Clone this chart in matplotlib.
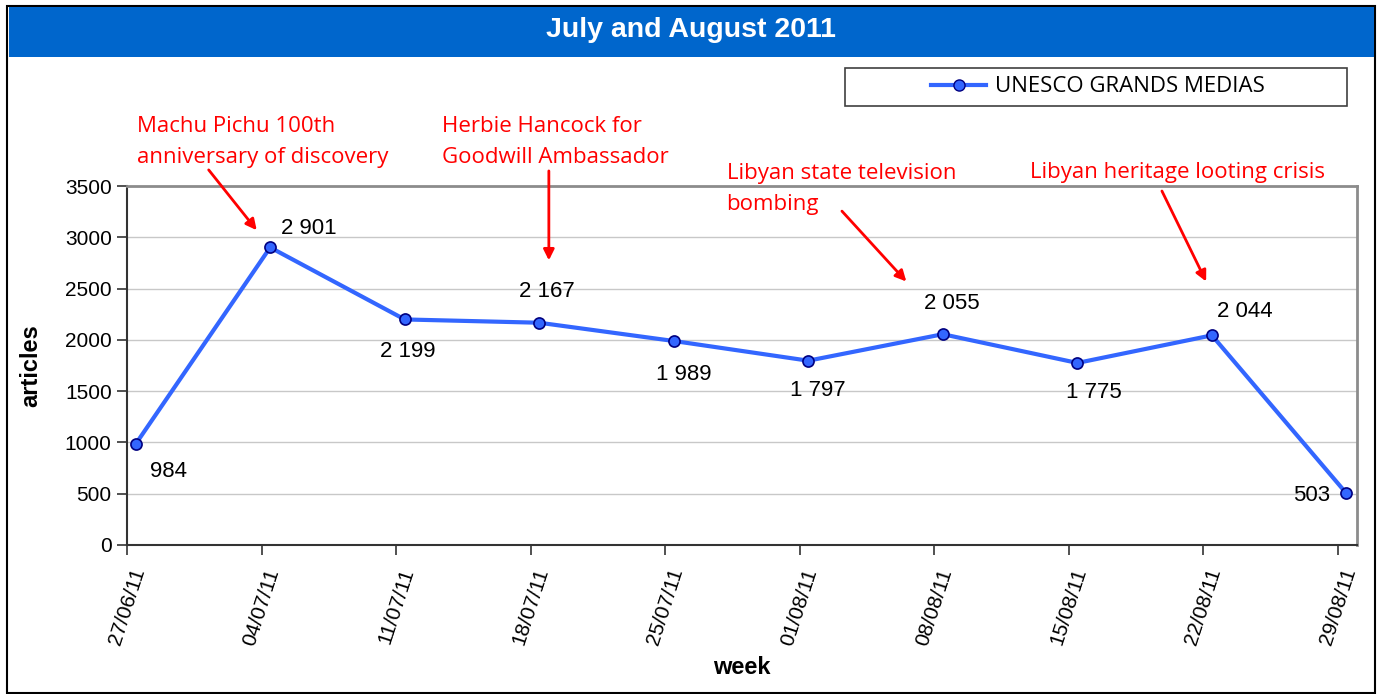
import pandas as pd
import matplotlib
matplotlib.use("Agg")
import matplotlib.pyplot as plt
from matplotlib.patches import Rectangle
from matplotlib.lines import Line2D

# data
weeks = ["27/06/11", "04/07/11", "11/07/11", "18/07/11", "25/07/11",
         "01/08/11", "08/08/11", "15/08/11", "22/08/11", "29/08/11"]
articles = [984, 2901, 2199, 2167, 1989, 1797, 2055, 1775, 2044, 503]
series_name = "UNESCO GRANDS MEDIAS"
title = "July and August 2011"

events = ["Machu Pichu 100th\nanniversary of discovery",
          "Herbie Hancock for\nGoodwill Ambassador",
          "Libyan state television\nbombing",
          "Libyan heritage looting crisis"]
event_week = [1, 3, 6, 8]

plt.rcParams['font.family'] = ['Liberation Sans', 'DejaVu Sans']

dates = pd.to_datetime(weeks, format="%d/%m/%y")
days = [(d - dates[0]).days for d in dates]
xs = [d + 0.45 for d in days]

W, H = 1380, 694
fig = plt.figure(figsize=(W / 100, H / 100), dpi=100)

def fx(px):
    return px / W

def fy(py):
    return 1 - py / H

# outer frame and title bar
fig.patches.append(Rectangle((fx(7), fy(693)), fx(1375) - fx(7), fy(6) - fy(693),
                             transform=fig.transFigure, fill=False,
                             edgecolor='black', lw=1.5))
fig.patches.append(Rectangle((fx(9), fy(57)), fx(1374) - fx(9), fy(7) - fy(57),
                             transform=fig.transFigure, color='#0066CC', lw=0))
fig.text(fx(691), fy(30), title, color='white', fontsize=20.5,
         fontweight='bold', ha='center', va='center')

ax = fig.add_axes([fx(127), fy(545), fx(1357) - fx(127), fy(186) - fy(545)])
ax.plot(xs, articles, color='#3366FF', lw=3, marker='o', markersize=8,
        markerfacecolor='#3366FF', markeredgecolor='#000080', markeredgewidth=1.2,
        zorder=3)

ax.set_xlim(0, 64)
ax.set_ylim(0, 3500)
ax.set_yticks(range(0, 3501, 500))
ax.set_xticks(days)
ax.set_xticklabels(weeks, rotation=72, ha='center', fontsize=15)
ax.tick_params(axis='y', labelsize=15, length=7, width=1.2, color='#333333', pad=4)
ax.tick_params(axis='x', length=7, width=1.2, color='#333333', pad=8)
ax.grid(axis='y', color='#C8C8C8', lw=1)
ax.set_axisbelow(True)
for s in ['left', 'bottom']:
    ax.spines[s].set_color('#333333')
    ax.spines[s].set_linewidth(1.5)
for s in ['top', 'right']:
    ax.spines[s].set_color('#8C8C8C')
    ax.spines[s].set_linewidth(2)

ax.set_ylabel('articles', fontsize=17, fontweight='bold')
ax.set_xlabel('week', fontsize=17, fontweight='bold', labelpad=6)
ax.yaxis.set_label_coords(-0.069, 0.5)

# data labels
label_off = [(33, -27), (39, 19), (3, -32), (8, 31), (10, -34),
             (10, -30), (9, 31), (17, -30), (33, 24), (-35, -2)]
for x, v, off in zip(xs, articles, label_off):
    ax.annotate(f"{v:,}".replace(",", " "), (x, v), xytext=off,
                textcoords='offset pixels', ha='center', va='center', fontsize=16)

# event annotations: text position, arrow tail, arrow tip (offsets from the point)
text_pos = [(0.5, 3925), (16.4, 3925), (31.2, 3470), (47.0, 3630)]
tail_off = [(-3.2, 756), (0.5, 1480), (-5.25, 1200), (-2.6, 1407)]
tip_off = [(-0.7, 168), (0.5, 608), (-1.9, 514), (-0.3, 525)]
for ev, i, tp, ta, ti in zip(events, event_week, text_pos, tail_off, tip_off):
    x, v = xs[i], articles[i]
    ax.text(tp[0], tp[1], ev, color='red', fontsize=16, ha='left', va='center',
            linespacing=1.62, family=['Open Sans', 'DejaVu Sans'], clip_on=False)
    ax.annotate('', xy=(x + ti[0], v + ti[1]), xytext=(x + ta[0], v + ta[1]),
                arrowprops=dict(arrowstyle='-|>', color='red', lw=2,
                                mutation_scale=16, shrinkA=0, shrinkB=0),
                annotation_clip=False)

# legend
fig.patches.append(Rectangle((fx(845), fy(106)), fx(1347) - fx(845), fy(68) - fy(106),
                             transform=fig.transFigure, fill=False,
                             edgecolor='#404040', lw=1.2))
handle = Line2D([], [], color='#3366FF', lw=3, marker='o', markersize=8,
                markerfacecolor='#3366FF', markeredgecolor='#000080')
fig.legend([handle], [series_name], loc='center',
           bbox_to_anchor=(fx(1098), fy(87)), frameon=False,
           prop={'family': ['Open Sans', 'DejaVu Sans'], 'size': 16},
           handlelength=2.5, handletextpad=0.4)

fig.savefig('out.png', dpi=100)
